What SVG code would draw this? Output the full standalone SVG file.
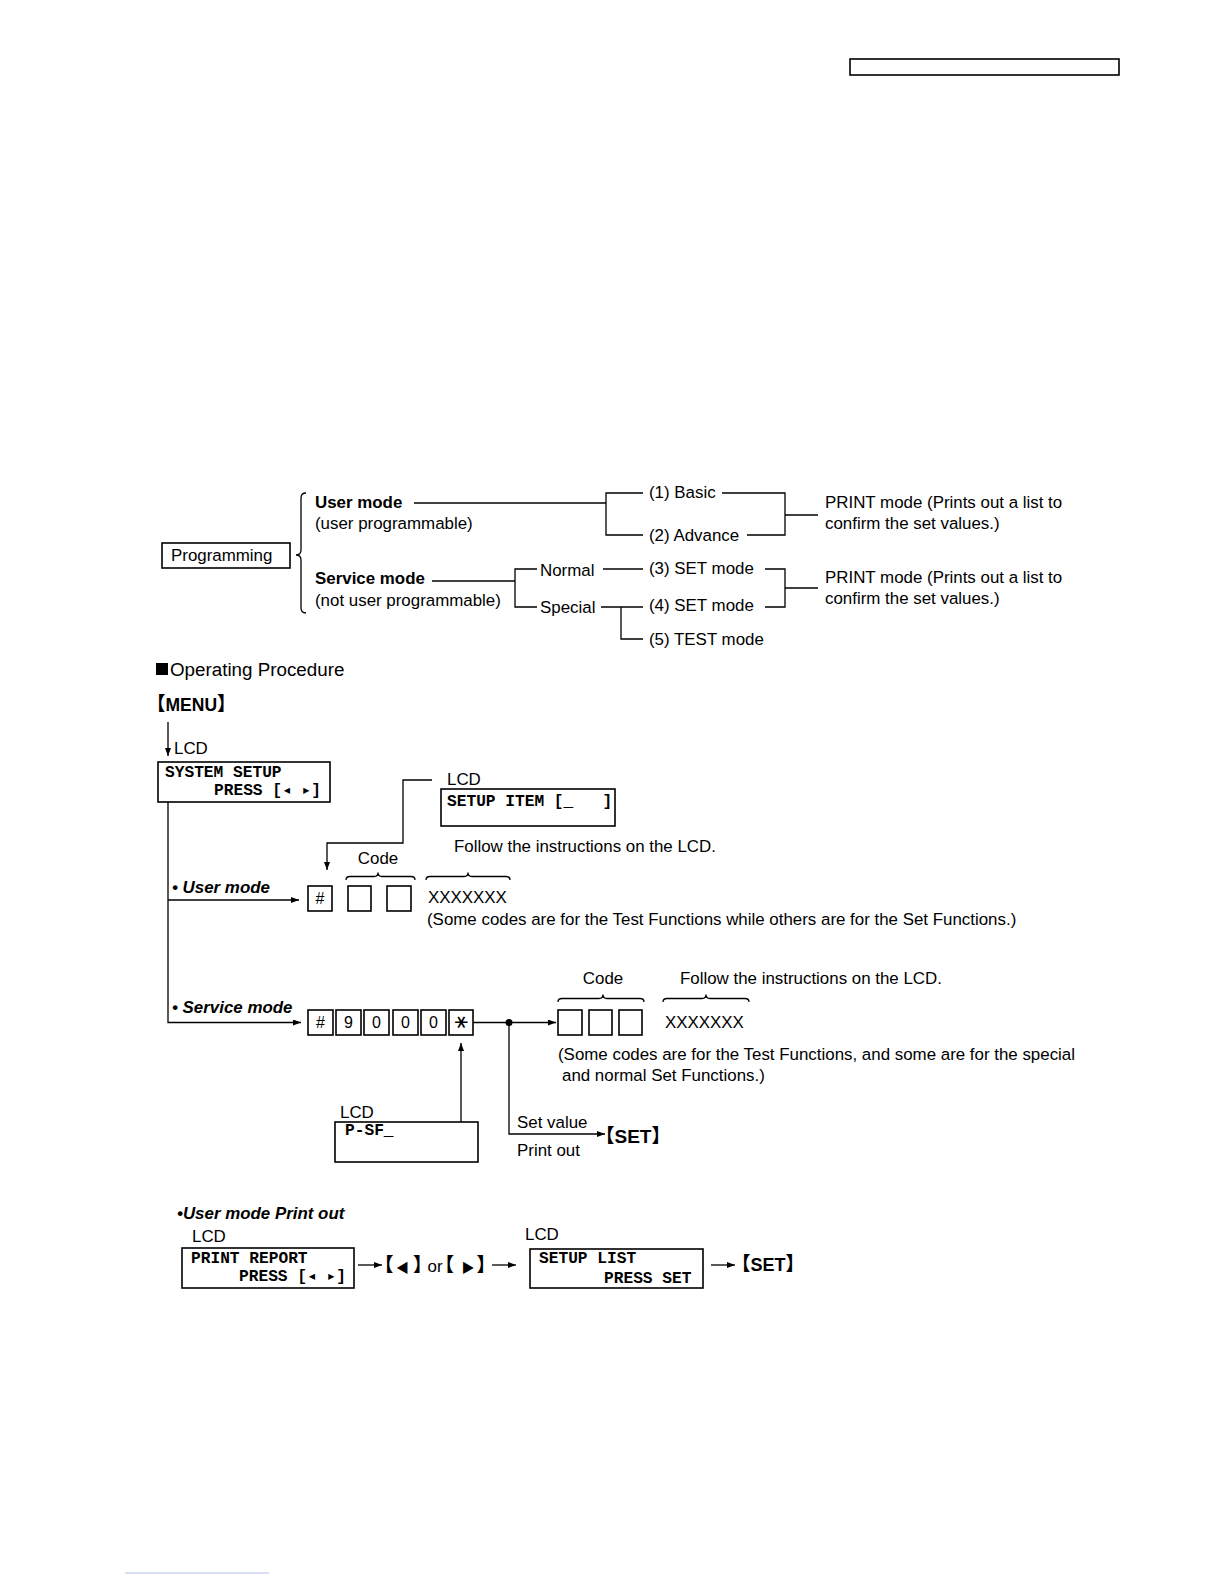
<svg xmlns="http://www.w3.org/2000/svg" width="1224" height="1584" viewBox="0 0 1224 1584">
<style>
.t{font-family:"Liberation Sans",Arial,sans-serif;font-size:16.9px;fill:#000}
.b{font-weight:bold;font-size:16.9px}
.bi{font-weight:bold;font-style:italic;font-size:16.9px}
.m{font-family:"Liberation Mono","DejaVu Sans Mono",monospace;font-weight:bold;font-size:16.2px;fill:#000;white-space:pre}
.cj{font-family:"Noto Sans CJK JP","Liberation Sans",sans-serif;font-weight:bold;font-size:19px;fill:#000;font-feature-settings:"halt"}
.lat{font-family:"Liberation Sans",Arial,sans-serif;font-weight:bold;font-size:18px}
.ln{stroke:#000;stroke-width:1.3;fill:none}
.bx{stroke:#000;stroke-width:1.6;fill:#fff}
.k{font-family:"Liberation Sans",Arial,sans-serif;font-size:16px;fill:#000;text-anchor:middle}
</style>
<defs>
<marker id="ah" markerUnits="userSpaceOnUse" markerWidth="8" markerHeight="6" refX="8" refY="3" orient="auto">
<path d="M0,0 L8,3 L0,6 z" fill="#000"/>
</marker>
</defs>
<rect x="0" y="0" width="1224" height="1584" fill="#fff"/>

<!-- header box -->
<rect x="850" y="59" width="269" height="16" fill="none" stroke="#000" stroke-width="1.6"/>
<line x1="125" y1="1573" x2="269" y2="1573" stroke="#b4c2ee" stroke-width="1"/>

<!-- connectors -->
<g id="connectors">
<path class="ln" d="M306,493 Q301,493 301,498 L301,550 Q301,555 296,555 Q301,555 301,560 L301,608 Q301,613 306,613"/>
<path class="ln" d="M414,503 H606"/>
<path class="ln" d="M643,493 H606 V535 H643"/>
<path class="ln" d="M722,493 H785 V535 H747"/>
<path class="ln" d="M785,515 H818" stroke-width="2"/>
<path class="ln" d="M432,581 H515"/>
<path class="ln" d="M537,569 H515 V607 H537"/>
<path class="ln" d="M603,569 H643"/>
<path class="ln" d="M601,607 H643"/>
<path class="ln" d="M765,569 H785 V607 H765"/>
<path class="ln" d="M785,588 H818"/>
<path class="ln" d="M621,607 V639 H643"/>

<path class="ln" d="M168,722 V756" marker-end="url(#ah)"/>
<path class="ln" d="M168,802 V1022.5 H301" marker-end="url(#ah)"/>
<path class="ln" d="M168,900 H299" marker-end="url(#ah)"/>
<path class="ln" d="M432,780 H403 V843 H327 V870" marker-end="url(#ah)"/>
<path class="ln" d="M473,1022.5 H556" marker-end="url(#ah)"/>
<circle cx="509" cy="1022.5" r="3.5" fill="#000"/>
<path class="ln" d="M461,1122 V1043" marker-end="url(#ah)"/>
<path class="ln" d="M509,1022.5 V1134 H605" marker-end="url(#ah)"/>
<path class="ln" d="M358,1265 H382" marker-end="url(#ah)"/>
<path class="ln" d="M492,1265 H516" marker-end="url(#ah)"/>
<path class="ln" d="M711,1265 H735" marker-end="url(#ah)"/>

<!-- braces -->
<path class="ln" d="M346,880 Q346,876.5 350,876.5 L374,876.5 Q378,876.5 378,872.5 Q378,876.5 382,876.5 L411,876.5 Q415,876.5 415,880"/>
<path class="ln" d="M426,880 Q426,876.5 430,876.5 L464,876.5 Q468,876.5 468,872.5 Q468,876.5 472,876.5 L506,876.5 Q510,876.5 510,880"/>
<path class="ln" d="M558,1002 Q558,998.5 562,998.5 L599,998.5 Q603,998.5 603,994.5 Q603,998.5 607,998.5 L640,998.5 Q644,998.5 644,1002"/>
<path class="ln" d="M663,1002 Q663,998.5 667,998.5 L702,998.5 Q706,998.5 706,994.5 Q706,998.5 710,998.5 L745,998.5 Q749,998.5 749,1002"/>
</g>

<!-- top tree -->
<g id="programming">
<rect x="162" y="543" width="128" height="25" fill="none" stroke="#000" stroke-width="1.6"/>
<text class="t" x="171" y="561">Programming</text>
</g>
<g id="user-mode">
<text class="t b" x="315" y="508">User mode</text>
<text class="t" x="315" y="529">(user programmable)</text>
</g>
<g id="service-mode">
<text class="t b" x="315" y="584">Service mode</text>
<text class="t" x="315" y="606">(not user programmable)</text>
</g>
<g id="basic"><text class="t" x="649" y="498">(1) Basic</text></g>
<g id="advance"><text class="t" x="649" y="541">(2) Advance</text></g>
<g id="print1">
<text class="t" x="825" y="508">PRINT mode (Prints out a list to</text>
<text class="t" x="825" y="529">confirm the set values.)</text>
</g>
<g id="normal"><text class="t" x="540" y="576">Normal</text></g>
<g id="special"><text class="t" x="540" y="613">Special</text></g>
<g id="set3"><text class="t" x="649" y="574">(3) SET mode</text></g>
<g id="set4"><text class="t" x="649" y="611">(4) SET mode</text></g>
<g id="test5"><text class="t" x="649" y="645">(5) TEST mode</text></g>
<g id="print2">
<text class="t" x="825" y="583">PRINT mode (Prints out a list to</text>
<text class="t" x="825" y="604">confirm the set values.)</text>
</g>

<!-- procedure -->
<g id="heading">
<rect x="156" y="663" width="12" height="12" fill="#000"/>
<text class="t" x="170" y="676" style="font-size:18.8px">Operating Procedure</text>
</g>
<g id="menu">
<text class="cj" x="156" y="711">【<tspan class="lat" style="font-size:17.5px">MENU</tspan>】</text>
</g>
<g id="lcd-system">
<text class="t" x="174" y="754">LCD</text>
<rect class="bx" x="158" y="762" width="172" height="40"/>
<text class="m" x="165" y="777">SYSTEM SETUP</text>
<text class="m" x="214" y="795">PRESS [◂ ▸]</text>
</g>
<g id="lcd-setup-item">
<text class="t" x="447" y="785">LCD</text>
<rect class="bx" x="441" y="789" width="174" height="37"/>
<text class="m" x="447" y="806">SETUP ITEM [_   ]</text>
</g>
<g id="user-entry">
<text class="t bi" x="172" y="893">• User mode</text>
<text class="t" x="378" y="864" text-anchor="middle">Code</text>
<text class="t" x="454" y="852">Follow the instructions on the LCD.</text>
<rect class="bx" x="308" y="886" width="24" height="25"/>
<text class="k" x="320" y="904">#</text>
<rect class="bx" x="348" y="886" width="23" height="25"/>
<rect class="bx" x="387" y="886" width="24" height="25"/>
<text class="t" x="428" y="903">XXXXXXX</text>
<text class="t" x="427" y="925">(Some codes are for the Test Functions while others are for the Set Functions.)</text>
</g>
<g id="service-entry">
<text class="t bi" x="172" y="1013">• Service mode</text>
<rect class="bx" x="308" y="1010" width="25" height="25"/>
<text class="k" x="320.5" y="1028">#</text>
<rect class="bx" x="336" y="1010" width="25" height="25"/>
<text class="k" x="348.5" y="1028">9</text>
<rect class="bx" x="364" y="1010" width="25" height="25"/>
<text class="k" x="376.5" y="1028">0</text>
<rect class="bx" x="393" y="1010" width="25" height="25"/>
<text class="k" x="405.5" y="1028">0</text>
<rect class="bx" x="421" y="1010" width="25" height="25"/>
<text class="k" x="433.5" y="1028">0</text>
<rect class="bx" x="449" y="1010" width="24" height="25"/>
<text x="461" y="1029" transform="rotate(90 461 1022.5)" style="font-family:'DejaVu Sans',sans-serif;font-size:20px;text-anchor:middle">∗</text>
<text class="t" x="603" y="984" text-anchor="middle">Code</text>
<text class="t" x="680" y="984">Follow the instructions on the LCD.</text>
<rect class="bx" x="558" y="1010" width="24" height="25"/>
<rect class="bx" x="589" y="1010" width="23" height="25"/>
<rect class="bx" x="619" y="1010" width="23" height="25"/>
<text class="t" x="665" y="1028">XXXXXXX</text>
<text class="t" x="558" y="1060">(Some codes are for the Test Functions, and some are for the special</text>
<text class="t" x="562" y="1081">and normal Set Functions.)</text>
</g>
<g id="lcd-psf">
<text class="t" x="340" y="1118">LCD</text>
<rect class="bx" x="335" y="1122" width="143" height="40"/>
<text class="m" x="345" y="1135">P-SF_</text>
</g>
<g id="set-value">
<text class="t" x="517" y="1128">Set value</text>
<text class="t" x="517" y="1156">Print out</text>
<text class="cj" x="605" y="1143">【<tspan class="lat" style="font-size:19px">SET</tspan>】</text>
</g>

<!-- user mode print out -->
<g id="print-out-title"><text class="t bi" x="177" y="1219">•User mode Print out</text></g>
<g id="lcd-print-report">
<text class="t" x="192" y="1242">LCD</text>
<rect class="bx" x="182" y="1248" width="172" height="40"/>
<text class="m" x="191" y="1263">PRINT REPORT</text>
<text class="m" x="239" y="1281">PRESS [◂ ▸]</text>
</g>
<g id="keys">
<text class="cj" x="384" y="1272">【<tspan dx="2.5" style="font-size:13px">◀</tspan><tspan dx="4">】</tspan><tspan dx="5" style="font-family:'Liberation Sans',Arial,sans-serif;font-weight:normal;font-size:16.9px">or</tspan><tspan dx="2">【</tspan><tspan dx="7.5" style="font-size:13px">▶</tspan><tspan dx="2">】</tspan></text>
</g>
<g id="lcd-setup-list">
<text class="t" x="525" y="1240">LCD</text>
<rect class="bx" x="530" y="1249" width="173" height="39"/>
<text class="m" x="539" y="1263">SETUP LIST</text>
<text class="m" x="604" y="1283">PRESS SET</text>
</g>
<g id="set-final">
<text class="cj" x="741" y="1271">【<tspan class="lat">SET</tspan>】</text>
</g>
</svg>
